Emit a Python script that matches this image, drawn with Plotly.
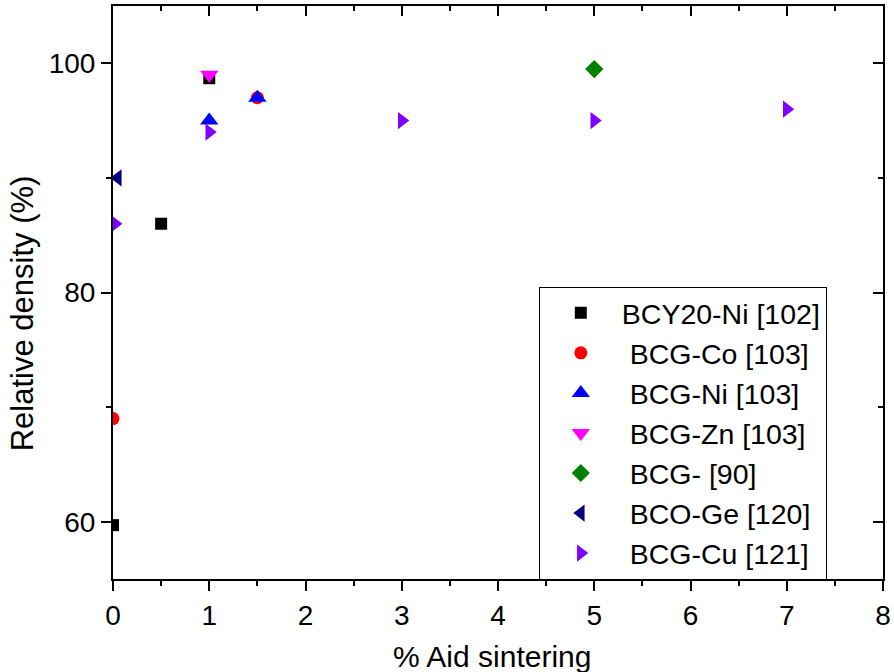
import plotly.graph_objects as go

# ---- data ----
series_names = ["BCY20-Ni [102]", " BCG-Co [103]", " BCG-Ni [103]", " BCG-Zn [103]",
                " BCG- [90]", " BCO-Ge [120]", " BCG-Cu [121]"]

bcy20_ni_x = [0, 0.5, 1]
bcy20_ni_y = [59.7, 86, 98.7]

bcg_co_x = [0, 1.5]
bcg_co_y = [69, 97]

bcg_ni_x = [1, 1.5]
bcg_ni_y = [95, 97]

bcg_zn_x = [1]
bcg_zn_y = [99]

bcg_x = [5]
bcg_y = [99.5]

bco_ge_x = [0.05]
bco_ge_y = [90]

bcg_cu_x = [0.02, 1, 3, 5, 7]
bcg_cu_y = [86, 94, 95, 95, 96]

x_title = "% Aid sintering"
y_title = "Relative density (%)"

xs = [bcy20_ni_x, bcg_co_x, bcg_ni_x, bcg_zn_x, bcg_x, bco_ge_x, bcg_cu_x]
ys = [bcy20_ni_y, bcg_co_y, bcg_ni_y, bcg_zn_y, bcg_y, bco_ge_y, bcg_cu_y]

symbols = ["square", "circle", "triangle-up", "triangle-down", "diamond",
           "triangle-left", "triangle-right"]
colors = ["#000000", "#FF0000", "#0000FF", "#FF00FF", "#008000", "#000080", "#8000FF"]
sizes = [12, 13, 16, 16, 14, 15, 15]

FONT = "Liberation Sans, Arial, sans-serif"

fig = go.Figure()
for n, x, y, s, c, sz in zip(series_names, xs, ys, symbols, colors, sizes):
    fig.add_trace(go.Scatter(x=x, y=y, mode="markers", name=n,
                             marker=dict(symbol=s, color=c, size=sz, line=dict(width=0))))

# empty helper trace so the mirrored tick axes exist
fig.add_trace(go.Scatter(x=[], y=[], xaxis="x2", yaxis="y2", showlegend=False,
                         hoverinfo="skip"))

fig.update_layout(
    width=894, height=672,
    margin=dict(l=113, r=11, t=6, b=93),
    paper_bgcolor="white", plot_bgcolor="white",
    font=dict(family=FONT, color="black"),
    xaxis=dict(range=[0, 8], dtick=1, tick0=0, ticks="outside", ticklen=10, tickwidth=2,
               tickcolor="black", showline=True, linewidth=2, linecolor="black", mirror=True,
               showgrid=False, zeroline=False, tickfont=dict(size=28), automargin=False,
               minor=dict(dtick=0.5, tick0=0, ticks="outside", ticklen=5, tickwidth=2,
                          tickcolor="black", showgrid=False)),
    yaxis=dict(range=[55, 105], dtick=20, tick0=60, ticks="outside", ticklen=10, tickwidth=2,
               tickcolor="black", showline=True, linewidth=2, linecolor="black", mirror=True,
               showgrid=False, zeroline=False, tickfont=dict(size=28), automargin=False,
               minor=dict(dtick=10, tick0=60, ticks="outside", ticklen=5, tickwidth=2,
                          tickcolor="black", showgrid=False)),
    xaxis2=dict(range=[0, 8], overlaying="x", side="top", anchor="y", dtick=1, tick0=0,
                ticks="inside", ticklen=10, tickwidth=2, tickcolor="black", automargin=False,
                showticklabels=False, showline=False, showgrid=False, zeroline=False,
                minor=dict(dtick=0.5, tick0=0, ticks="inside", ticklen=5, tickwidth=2,
                           tickcolor="black", showgrid=False)),
    yaxis2=dict(range=[55, 105], overlaying="y", side="right", anchor="x", dtick=20, tick0=60,
                ticks="inside", ticklen=10, tickwidth=2, tickcolor="black", automargin=False,
                showticklabels=False, showline=False, showgrid=False, zeroline=False,
                minor=dict(dtick=10, tick0=60, ticks="inside", ticklen=5, tickwidth=2,
                           tickcolor="black", showgrid=False)),
    legend=dict(x=0.553, y=0.51, xanchor="left", yanchor="top",
                bordercolor="black", borderwidth=1, bgcolor="white",
                font=dict(size=28.5, family=FONT), itemwidth=72, tracegroupgap=0),
    showlegend=True,
    annotations=[
        dict(text=x_title, xref="paper", yref="paper", x=0.492, y=-0.136,
             xanchor="center", yanchor="middle", showarrow=False,
             font=dict(size=30, family=FONT, color="black")),
        dict(text=y_title, xref="paper", yref="paper", x=-0.118, y=0.464,
             xanchor="center", yanchor="middle", showarrow=False, textangle=-90,
             font=dict(size=31, family=FONT, color="black")),
    ],
)

fig.write_html("out.html", config={"displayModeBar": False},
               post_script="document.body.style.margin='0px';")
